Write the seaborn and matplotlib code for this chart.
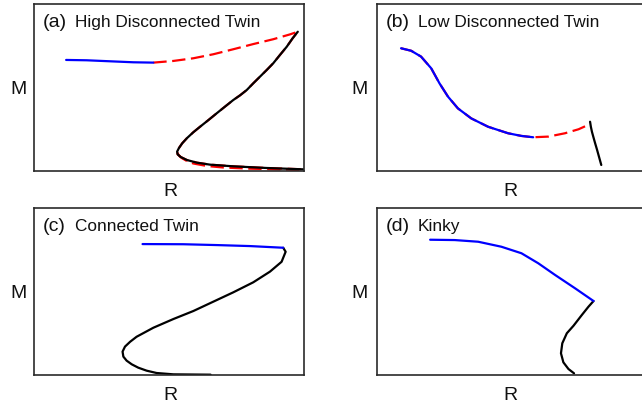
import numpy as np
import pandas as pd
import matplotlib
matplotlib.use("Agg")
import matplotlib.pyplot as plt
import seaborn as sns

sns.set_style("white")
plt.rcParams['font.family'] = ['Liberation Sans', 'DejaVu Sans']

# ---------------- data (axes-normalised R, M) ----------------
# (a) High Disconnected Twin
a_blue_R = [0.119, 0.195, 0.281, 0.368, 0.442]
a_blue_M = [0.665, 0.663, 0.657, 0.651, 0.649]
a_upper_R = [0.442, 0.516, 0.590, 0.664, 0.738, 0.812, 0.886, 0.948, 0.977]
a_upper_M = [0.649, 0.659, 0.675, 0.699, 0.729, 0.760, 0.789, 0.818, 0.834]
a_black_R = [0.977, 0.958, 0.936, 0.911, 0.886, 0.862, 0.837, 0.812, 0.788, 0.763,
             0.738, 0.707, 0.677, 0.646, 0.615, 0.590, 0.566, 0.549, 0.537, 0.530,
             0.532, 0.543, 0.566, 0.603, 0.652, 0.738, 0.862, 0.997]
a_black_M = [0.834, 0.795, 0.744, 0.695, 0.645, 0.605, 0.565, 0.525, 0.485, 0.453,
             0.425, 0.385, 0.346, 0.305, 0.265, 0.232, 0.196, 0.166, 0.138, 0.116,
             0.100, 0.084, 0.066, 0.050, 0.038, 0.028, 0.018, 0.010]
a_lowred_R = [0.530, 0.536, 0.547, 0.566, 0.590, 0.640, 0.700, 0.800, 0.923, 0.997]
a_lowred_M = [0.112, 0.095, 0.078, 0.060, 0.045, 0.030, 0.021, 0.014, 0.009, 0.005]

# (b) Low Disconnected Twin
b_blue_R = [0.090, 0.128, 0.165, 0.203, 0.234, 0.266, 0.303, 0.353, 0.416, 0.491, 0.541, 0.585]
b_blue_M = [0.735, 0.720, 0.685, 0.615, 0.525, 0.445, 0.375, 0.315, 0.265, 0.226, 0.210, 0.202]
b_red_R = b_blue_R + [0.642, 0.704, 0.755, 0.798]
b_red_M = b_blue_M + [0.206, 0.226, 0.250, 0.281]
b_black_R = [0.798, 0.801, 0.805, 0.811, 0.817, 0.824, 0.832, 0.840]
b_black_M = [0.295, 0.265, 0.235, 0.200, 0.166, 0.128, 0.082, 0.036]

# (c) Connected Twin
c_blue_R = [0.402, 0.553, 0.677, 0.800, 0.923]
c_blue_M = [0.784, 0.783, 0.778, 0.772, 0.762]
c_black_R = [0.923, 0.932, 0.917, 0.874, 0.812, 0.738, 0.664, 0.590, 0.516, 0.442,
             0.380, 0.356, 0.337, 0.328, 0.331, 0.343, 0.362, 0.386, 0.417, 0.454,
             0.516, 0.654]
c_black_M = [0.762, 0.738, 0.678, 0.619, 0.555, 0.495, 0.439, 0.383, 0.335, 0.283,
             0.229, 0.199, 0.170, 0.140, 0.110, 0.086, 0.064, 0.044, 0.026, 0.012,
             0.004, 0.002]

# (d) Kinky
d_blue_R = [0.199, 0.291, 0.379, 0.466, 0.541, 0.604, 0.667, 0.742, 0.811]
d_blue_M = [0.810, 0.808, 0.798, 0.768, 0.729, 0.669, 0.599, 0.519, 0.443]
d_black_R = [0.811, 0.792, 0.767, 0.736, 0.711, 0.694, 0.689, 0.698, 0.717, 0.738]
d_black_M = [0.443, 0.409, 0.359, 0.295, 0.250, 0.190, 0.130, 0.076, 0.036, 0.010]

tag_labels = ["(a)", "(b)", "(c)", "(d)"]
titles = ["High Disconnected Twin", "Low Disconnected Twin", "Connected Twin", "Kinky"]

# ---------------- figure ----------------
W, H = 642, 411
fig = plt.figure(figsize=(W / 100, H / 100), dpi=100)

def px_axes(l, t, r, b):
    return fig.add_axes([l / W, 1 - b / H, (r - l) / W, (b - t) / H])

boxes = [(34, 4, 304, 171), (377, 4, 644, 171), (34, 208, 304, 375), (377, 208, 644, 375)]
axes = [px_axes(*bx) for bx in boxes]

LW = 1.6
DASH = (0, (6, 2.5))

def line(ax, R, M, color, ls='-'):
    df = pd.DataFrame({"R": R, "M": M})
    sns.lineplot(data=df, x="R", y="M", sort=False, estimator=None, ax=ax,
                 color=color, lw=LW, linestyle=ls)

line(axes[0], a_upper_R + a_black_R[1:], a_upper_M + a_black_M[1:], '#ff0000', DASH)
line(axes[0], a_lowred_R, a_lowred_M, '#ff0000', DASH)
line(axes[0], a_black_R, a_black_M, 'black')
line(axes[0], a_blue_R, a_blue_M, '#0000ff')

line(axes[1], b_red_R, b_red_M, '#ff0000', DASH)
line(axes[1], b_black_R, b_black_M, 'black')
line(axes[1], b_blue_R, b_blue_M, '#0000ff')

line(axes[2], c_black_R, c_black_M, 'black')
line(axes[2], c_blue_R, c_blue_M, '#0000ff')

line(axes[3], d_black_R, d_black_M, 'black')
line(axes[3], d_blue_R, d_blue_M, '#0000ff')

for i, (ax, bx) in enumerate(zip(axes, boxes)):
    ax.set_xlim(0, 1)
    ax.set_ylim(0, 1)
    ax.set_xticks([])
    ax.set_yticks([])
    ax.set_xlabel("")
    ax.set_ylabel("")
    for s in ax.spines.values():
        s.set_color('#2a2a2a')
        s.set_linewidth(1.2)
    l, t, r, b = bx
    base = t + 23
    fig.text((l + 9) / W, 1 - base / H, tag_labels[i], fontsize=14,
             ha='left', va='baseline', color='#111111')
    fig.text((l + 41) / W, 1 - base / H, titles[i], fontsize=12.4,
             ha='left', va='baseline', color='#111111')
    # axis labels
    mx = 19 if l < 100 else 360
    fig.text(mx / W, 1 - ((t + b) / 2 + 1.5) / H, "M", fontsize=14,
             ha='center', va='center', color='#111111')
    rx = (l + min(r, 642)) / 2 + 1
    fig.text(rx / W, 1 - (b + 20) / H, "R", fontsize=14,
             ha='center', va='center', color='#111111')

fig.savefig("out.png", dpi=100)
